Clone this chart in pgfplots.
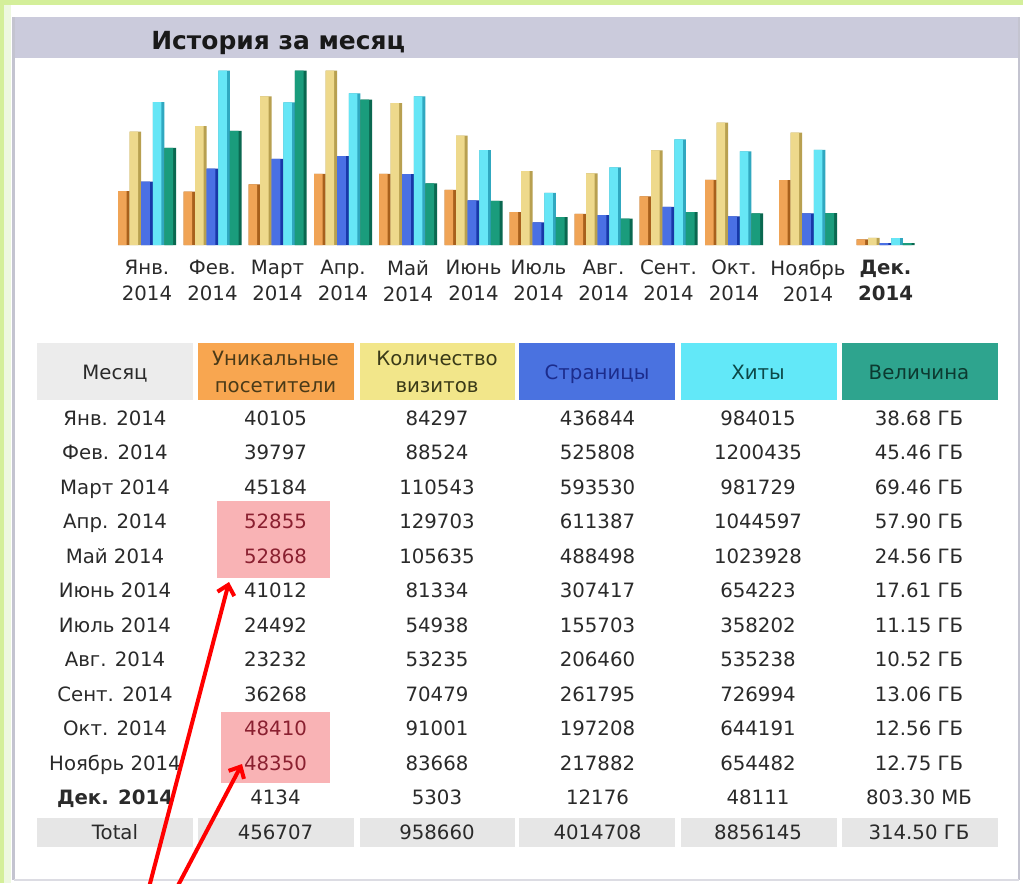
\documentclass[border=0pt]{standalone}
\usepackage{pgfplots}
\usepackage{pgfplotstable}
\pgfplotsset{compat=1.18}
\usepackage{fontspec}
\setmainfont{DejaVu Sans}
\usetikzlibrary{arrows.meta}
\definecolor{greenA}{HTML}{D4EF9A}
\definecolor{greenB}{HTML}{EEF8E0}
\definecolor{titlebg}{HTML}{CBCBDC}
\definecolor{panelline}{HTML}{C4C4D0}
\definecolor{textc}{HTML}{2A2A2A}
\definecolor{hcM}{HTML}{ECECEC}
\definecolor{hcU}{HTML}{F8A650}
\definecolor{hcV}{HTML}{F2E68A}
\definecolor{hcP}{HTML}{4A72E0}
\definecolor{hcH}{HTML}{62E8F8}
\definecolor{hcK}{HTML}{2EA48E}
\definecolor{htU}{HTML}{4A3A18}
\definecolor{htV}{HTML}{3A3A18}
\definecolor{htP}{HTML}{1C2C8C}
\definecolor{htH}{HTML}{0C4848}
\definecolor{htK}{HTML}{0C3A30}
\definecolor{totbg}{HTML}{E6E6E6}
\definecolor{hlbg}{HTML}{F9B3B5}
\definecolor{hltx}{HTML}{8A2030}
% bar colours: main and edge
\definecolor{oM}{HTML}{F0A456}\definecolor{oE}{HTML}{A8601C}
\definecolor{yM}{HTML}{EED98C}\definecolor{yE}{HTML}{B8A050}
\definecolor{bM}{HTML}{4A70E4}\definecolor{bE}{HTML}{1838A8}
\definecolor{cM}{HTML}{66E6F6}\definecolor{cE}{HTML}{30A8C0}
\definecolor{tM}{HTML}{1A9C7C}\definecolor{tE}{HTML}{0A6850}

\newcommand{\tf}{\fontsize{14.8pt}{19.5pt}\selectfont}
\newcommand{\titlef}{\fontsize{18.7pt}{20pt}\selectfont\bfseries}

\pgfplotstableread{
x u v p h k
147 40105 84297 436844 984015 38.68
212.5 39797 88524 525808 1200435 45.46
277.5 45184 110543 593530 981729 69.46
343 52855 129703 611387 1044597 57.90
408 52868 105635 488498 1023928 24.56
473.5 41012 81334 307417 654223 17.61
538.5 24492 54938 155703 358202 11.15
603.5 23232 53235 206460 535238 10.52
668.5 36268 70479 261795 726994 13.06
734 48410 91001 197208 644191 12.56
808 48350 83668 217882 654482 12.75
885.5 4134 5303 12176 48111 0.7845
}\histdata

\pgfplotsset{histaxis/.style={
  scale only axis, width=615pt, height=130.725pt,
  at={(75pt,-183.75pt)}, anchor=south west,
  xmin=100, xmax=920, ymin=0, clip=false,
  axis line style={draw=none}, tick style={draw=none},
  major tick length=0pt, ytick=\empty, xtick=\empty,
}}

\newcommand{\trow}[7]{%
  \node[anchor=base] at (115,#1) {#2};
  \node[anchor=base] at (275.5,#1) {#3};
  \node[anchor=base] at (437,#1) {#4};
  \node[anchor=base] at (597.5,#1) {#5};
  \node[anchor=base] at (758,#1) {#6};
  \node[anchor=base] at (919,#1) {#7};
}

\begin{document}
\begin{tikzpicture}
\useasboundingbox (0,0) rectangle (767.25pt,-662.25pt);
\begin{scope}[x=0.75pt,y=-0.75pt]
\fill[white] (0,0) rectangle (1023,883);
\fill[greenB] (0,0) rectangle (11,883);
\fill[greenA] (0,0) rectangle (4,883);
\fill[greenA] (0,0) rectangle (1023,5);
% panel
\fill[titlebg] (14,17) rectangle (1018,58);
\draw[panelline, line width=1.8pt] (13.5,17) -- (13.5,880);
\draw[panelline, line width=1pt] (1019,17) -- (1019,880);
\draw[panelline!60, line width=1pt] (13.5,880) -- (1019,880);
\node[font=\titlef, text=black!90, anchor=base west, inner sep=0] at (151,49) {История за месяц};
\end{scope}

% visitors / visits
\begin{axis}[histaxis, ymax=129703,
  xtick={147,212.5,277.5,343,408,473.5,538.5,603.5,668.5,734,808,885.5},
  xticklabels={{Янв.\\2014},{Фев.\\2014},{Март\\2014},{Апр.\\2014},{Май\\2014},{Июнь\\2014},{Июль\\2014},{Авг.\\2014},{Сент.\\2014},{Окт.\\2014},{Ноябрь\\2014},{\textbf{Дек.}\\\textbf{2014}}},
  xticklabel style={font=\tf, text=textc, align=center, anchor=north, yshift=-7.8pt}]
\addplot[ybar, bar width=11.6, bar shift=-23.2, draw=none, fill=oE] table[x=x,y=u]{\histdata};
\addplot[ybar, bar width=8.6, bar shift=-24.7, draw=none, fill=oM] table[x=x,y=u]{\histdata};
\addplot[ybar, bar width=11.6, bar shift=-11.6, draw=none, fill=yE] table[x=x,y=v]{\histdata};
\addplot[ybar, bar width=8.6, bar shift=-13.1, draw=none, fill=yM] table[x=x,y=v]{\histdata};
\end{axis}
% pages / hits
\begin{axis}[histaxis, ymax=1200435]
\addplot[ybar, bar width=11.6, bar shift=0, draw=none, fill=bE] table[x=x,y=p]{\histdata};
\addplot[ybar, bar width=8.6, bar shift=-1.5, draw=none, fill=bM] table[x=x,y=p]{\histdata};
\addplot[ybar, bar width=11.6, bar shift=11.6, draw=none, fill=cE] table[x=x,y=h]{\histdata};
\addplot[ybar, bar width=8.6, bar shift=10.1, draw=none, fill=cM] table[x=x,y=h]{\histdata};
\end{axis}
% bandwidth
\begin{axis}[histaxis, ymax=69.46]
\addplot[ybar, bar width=11.6, bar shift=23.2, draw=none, fill=tE] table[x=x,y=k]{\histdata};
\addplot[ybar, bar width=8.6, bar shift=21.7, draw=none, fill=tM] table[x=x,y=k]{\histdata};
\end{axis}

\begin{scope}[x=0.75pt,y=-0.75pt, every node/.style={font=\tf, text=textc, inner sep=0}]
% header
\fill[hcM] (37,343) rectangle (193,400);
\fill[hcU] (198,343) rectangle (354,400);
\fill[hcV] (360,343) rectangle (515,400);
\fill[hcP] (519,343) rectangle (675,400);
\fill[hcH] (681,343) rectangle (837,400);
\fill[hcK] (842,343) rectangle (998,400);
\node[anchor=base] at (115,379) {Месяц};
\node[anchor=base, text=htU] at (275.5,365) {Уникальные};
\node[anchor=base, text=htU] at (275.5,392) {посетители};
\node[anchor=base, text=htV] at (437,365) {Количество};
\node[anchor=base, text=htV] at (437,392) {визитов};
\node[anchor=base, text=htP] at (597,379) {Страницы};
\node[anchor=base, text=htH] at (758,379) {Хиты};
\node[anchor=base, text=htK] at (919,379) {Величина};
% highlights
\fill[hlbg] (217,501) rectangle (330,578);
\fill[hlbg] (221,712) rectangle (330,783);
% total background
\fill[totbg] (37,818) rectangle (193,847);
\fill[totbg] (198,818) rectangle (354,847);
\fill[totbg] (360,818) rectangle (515,847);
\fill[totbg] (519,818) rectangle (675,847);
\fill[totbg] (681,818) rectangle (837,847);
\fill[totbg] (842,818) rectangle (998,847);
% rows
\trow{425}{Янв. 2014}{40105}{84297}{436844}{984015}{38.68 ГБ}
\trow{459.5}{Фев. 2014}{39797}{88524}{525808}{1200435}{45.46 ГБ}
\trow{494}{Март 2014}{45184}{110543}{593530}{981729}{69.46 ГБ}
\trow{528.5}{Апр. 2014}{\textcolor{hltx}{52855}}{129703}{611387}{1044597}{57.90 ГБ}
\trow{563}{Май 2014}{\textcolor{hltx}{52868}}{105635}{488498}{1023928}{24.56 ГБ}
\trow{597.5}{Июнь 2014}{41012}{81334}{307417}{654223}{17.61 ГБ}
\trow{632}{Июль 2014}{24492}{54938}{155703}{358202}{11.15 ГБ}
\trow{666.5}{Авг. 2014}{23232}{53235}{206460}{535238}{10.52 ГБ}
\trow{701}{Сент. 2014}{36268}{70479}{261795}{726994}{13.06 ГБ}
\trow{735.5}{Окт. 2014}{\textcolor{hltx}{48410}}{91001}{197208}{644191}{12.56 ГБ}
\trow{770}{Ноябрь 2014}{\textcolor{hltx}{48350}}{83668}{217882}{654482}{12.75 ГБ}
\trow{804.5}{\textbf{Дек. 2014}}{4134}{5303}{12176}{48111}{803.30 МБ}
\trow{839}{Total}{456707}{958660}{4014708}{8856145}{314.50 ГБ}
% arrows
\draw[red, line width=3pt, -{Straight Barb[length=7pt, width=13pt]}] (147,895) -- (229,582);
\draw[red, line width=3pt, -{Straight Barb[length=7pt, width=13pt]}] (173,895) -- (242,764);
\end{scope}
\end{tikzpicture}
\end{document}
